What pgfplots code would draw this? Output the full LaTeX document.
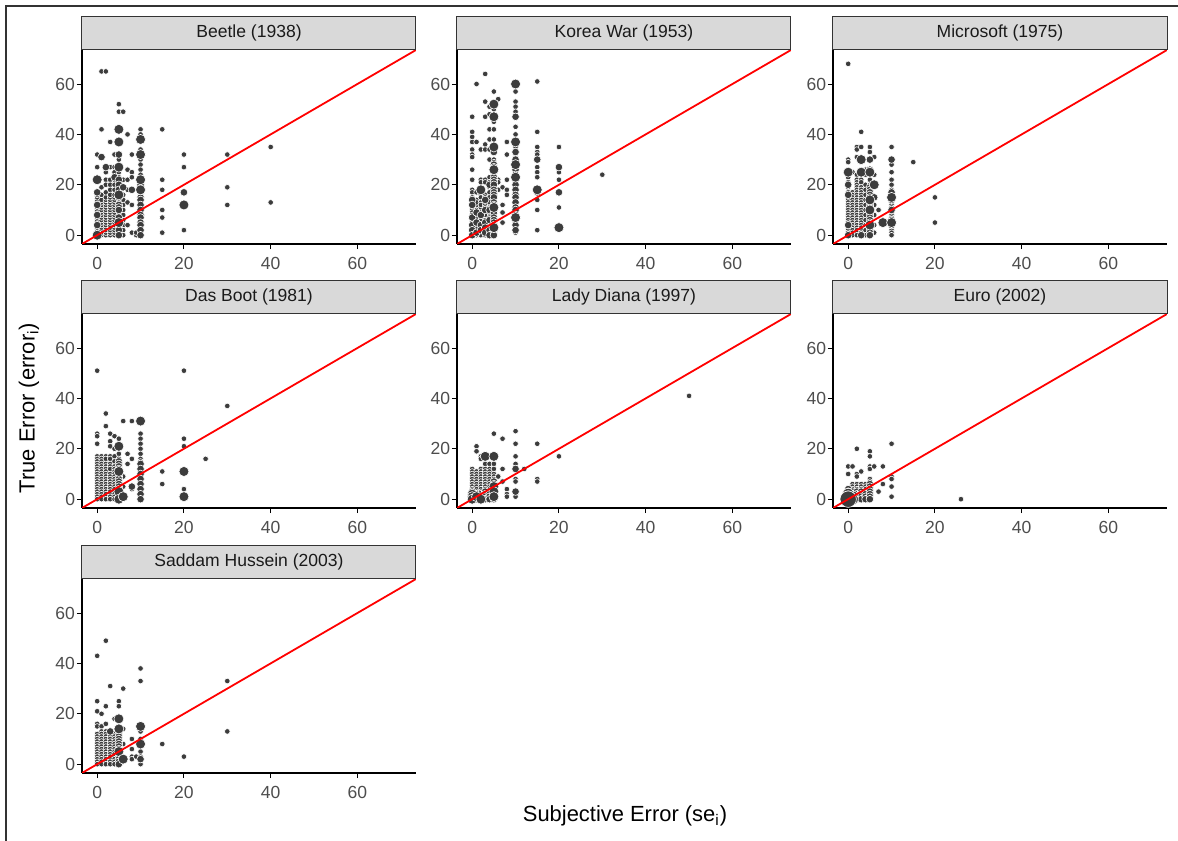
\documentclass[border=0pt]{standalone}
\usepackage{pgfplots}
\pgfplotsset{compat=1.18}
\usepackage{fontspec}
\setmainfont{Liberation Sans}
\definecolor{ptc}{HTML}{3C3C3C}
\definecolor{stripgray}{HTML}{D9D9D9}
\definecolor{stripborder}{HTML}{333333}
\definecolor{labgray}{HTML}{4D4D4D}
\definecolor{titletext}{HTML}{1A1A1A}
\newcommand{\pts}[2]{\addplot[only marks, mark=*, mark size=#1, mark options={fill=ptc, draw=white, line width=0.3bp}] coordinates {#2};}
\newcommand{\refl}{\addplot[red, line width=0.9bp, no marks] coordinates {(-3.5,-3.5)(73.5,73.5)};}
\newcommand{\strip}[1]{\node[anchor=south, fill=stripgray, draw=stripborder, line width=0.5bp,
    minimum width=167bp, minimum height=16.5bp, inner sep=0pt, text=titletext, font=\fontsize{8.8}{10}\selectfont]
    at (rel axis cs:0.5,1) {#1};}
\newcommand{\SZ}{1.4bp}
\newcommand{\MZ}{1.9bp}
\newcommand{\LZ}{2.5bp}
\pgfplotsset{facet/.style={
  anchor=south west, scale only axis, width=167bp, height=97bp,
  xmin=-3.5, xmax=73.5, ymin=-3.5, ymax=73.5,
  clip mode=individual,
  axis lines*=left, axis line style={-, line width=0.9bp, black},
  xtick={0,20,40,60}, ytick={0,20,40,60},
  tick align=outside, major tick length=2.6bp, tick style={line width=0.5bp, black},
  /pgf/number format/assume math mode=true,
  tick label style={font=\fontsize{8.8}{10}\selectfont, text=labgray, inner sep=1.2bp},
  xticklabel style={yshift=-2.5bp},
  yticklabel style={xshift=0.5bp},
}}
\begin{document}
\begin{tikzpicture}
\path[use as bounding box] (0,0) rectangle (589bp,420.5bp);
\draw[stripborder, line width=0.6bp] (3bp,0) -- (3bp,417.5bp) -- (589bp,417.5bp);

% Beetle
\begin{axis}[facet, at={(41bp,298.5bp)}]
\pts{\SZ}{(0,1)(0,2)(0,3)(0,5)(0,6)(0,7)(0,9)(0,10)(0,11)(0,13)(0,14)(0,15)(0,16)(0,27)(0,32)
 (1,65)(1,42)(1,0)(1,1)(1,2)(1,3)(1,4)(1,5)(1,6)(1,7)(1,8)(1,9)(1,10)(1,11)(1,12)(1,13)(1,14)(1,16)(1,19)
 (2,65)(2,25)(2,22)(2,20)(2,0)(2,1)(2,2)(2,3)(2,4)(2,5)(2,6)(2,7)(2,8)(2,9)(2,10)(2,11)(2,12)(2,13)(2,14)(2,15)(2,17)
 (3,37)(3,27)(3,22)(3,20)(3,18)(3,0)(3,1)(3,2)(3,3)(3,4)(3,5)(3,6)(3,7)(3,8)(3,9)(3,10)(3,11)(3,12)(3,13)(3,14)(3,15)(3,16)
 (4,32)(4,27)(4,25)(4,22)(4,20)(4,18)(4,0)(4,1)(4,2)(4,3)(4,4)(4,5)(4,6)(4,7)(4,8)(4,9)(4,10)(4,11)(4,12)(4,13)(4,14)(4,15)(4,16)
 (5,52)(5,49)(5,30)(5,25)(5,23)(5,21)(5,19)(5,17)(5,14)(5,13)(5,9)(5,8)(5,6)(5,3)(5,1)
 (6,49)(6,22)(6,16)(6,14)(6,12)(6,10)(6,8)(6,6)(6,4)(6,2)(6,0)
 (7,40)(7,26)(7,22)(7,18)(7,13)(7,4)(8,32)(8,25)(8,23)(8,12)(8,1)(9,0)(9,1)
 (10,42)(10,40)(10,34)(10,30)(10,28)(10,26)(10,24)(10,19)(10,16)(10,13)(10,11)(10,9)(10,6)(10,3)(10,1)
 (15,42)(15,22)(15,18)(15,10)(15,7)(15,1)(20,32)(20,27)(20,2)(30,32)(30,19)(30,12)(40,35)(40,13)}
\pts{\MZ}{(0,4)(0,8)(0,12)(0,17)(1,31)(2,27)(4,23)(5,32)(5,22)(5,20)(5,18)(5,15)(5,12)(5,11)(5,10)(5,7)(5,4)(5,2)(5,0)(6,19)(8,18)
 (10,21)(10,20)(10,17)(10,15)(10,14)(10,12)(10,10)(10,8)(10,7)(10,5)(10,4)(10,2)(10,0)(20,17)}
\pts{\LZ}{(0,22)(0,0)(5,42)(5,37)(5,27)(5,16)(5,5)(10,38)(10,32)(10,22)(10,18)(20,12)}
\refl
\strip{Beetle (1938)}
\end{axis}

% Korea War
\begin{axis}[facet, at={(228.5bp,298.5bp)}]
\pts{\SZ}{(0,47)(0,41)(0,39)(0,37)(0,34)(0,32)(0,31)(0,26)(0,22)(0,18)(0,17)(0,15)(0,13)(0,11)(0,10)(0,9)(0,8)(0,6)(0,5)(0,3)(0,1)
 (1,60)(1,37)(1,17)(1,14)(1,12)(1,10)(1,8)(1,6)(1,4)(1,2)(1,0)(1,13)(1,7)(1,3)
 (2,34)(2,22)(2,21)(2,16)(2,15)(2,13)(2,11)(2,9)(2,7)(2,5)(2,3)(2,1)(2,0)(2,12)(2,6)
 (3,64)(3,53)(3,47)(3,36)(3,34)(3,22)(3,21)(3,16)(3,15)(3,12)(3,11)(3,9)(3,8)(3,6)(3,4)(3,2)(3,0)
 (4,51)(4,48)(4,42)(4,38)(4,34)(4,30)(4,23)(4,21)(4,19)(4,17)(4,15)(4,13)(4,11)(4,9)(4,7)(4,5)(4,3)(4,1)
 (5,57)(5,50)(5,45)(5,42)(5,38)(5,30)(5,29)(5,24)(5,19)(5,14)(5,11)(5,8)(5,3)
 (6,54)(6,22)(6,21)(6,18)(7,19)(7,12)(7,9)(7,5)(8,37)(8,32)(8,22)(8,18)(8,16)
 (10,57)(10,53)(10,51)(10,49)(10,43)(10,40)(10,35)(10,31)(10,25)(10,21)(10,19)(10,17)(10,14)(10,12)(10,9)(10,5)(10,3)(10,1)
 (15,61)(15,41)(15,35)(15,33)(15,32)(15,27)(15,25)(15,23)(15,14)(15,10)(15,2)(20,35)(20,25)(20,22)(20,11)(30,24)}
\pts{\MZ}{(0,14)(0,12)(0,7)(0,4)(0,2)(0,0)(1,9)(1,5)(1,1)(2,8)(2,4)(2,2)(3,14)(3,10)(3,5)(3,3)(3,1)(4,20)(4,10)(4,6)(4,2)(4,0)
 (5,33)(5,28)(5,27)(5,25)(5,23)(5,22)(5,21)(5,20)(5,18)(5,17)(5,16)(5,15)(5,13)(5,12)(5,10)(5,9)(5,7)(5,6)(5,5)(5,4)(5,2)(5,1)(5,0)
 (10,47)(10,33)(10,30)(10,27)(10,26)(10,24)(10,22)(10,20)(10,18)(10,16)(10,15)(10,13)(10,11)(10,10)(10,8)(10,6)(10,4)(10,2)
 (15,30)(15,17)(20,27)(20,17)}
\pts{\LZ}{(2,18)(5,52)(5,47)(5,35)(5,26)(5,11)(5,3)(10,60)(10,37)(10,28)(10,23)(10,7)(15,18)(20,3)}
\refl
\strip{Korea War (1953)}
\end{axis}

% Microsoft
\begin{axis}[facet, at={(416.5bp,298.5bp)}]
\pts{\SZ}{(0,68)(0,30)(0,29)(0,24)(0,23)(0,21)(0,19)(0,17)(0,15)(0,14)(0,13)(0,12)(0,11)(0,10)(0,9)(0,8)(0,7)(0,6)(0,5)(0,3)(0,2)(0,1)
 (1,25)(1,17)(1,16)(1,15)(1,14)(1,13)(1,12)(1,11)(1,10)(1,9)(1,8)(1,7)(1,6)(1,5)(1,4)(1,3)(1,2)(1,1)(1,0)
 (2,35)(2,34)(2,31)(2,24)(2,22)(2,21)(2,20)(2,19)(2,18)(2,17)(2,16)(2,15)(2,14)(2,13)(2,12)(2,11)(2,10)(2,9)(2,8)(2,7)(2,6)(2,5)(2,4)(2,3)(2,2)(2,1)(2,0)
 (3,41)(3,35)(3,29)(3,24)(3,22)(3,21)(3,19)(3,18)(3,17)(3,16)(3,15)(3,14)(3,13)(3,12)(3,11)(3,10)(3,9)(3,8)(3,7)(3,6)(3,5)(3,4)(3,3)(3,2)(3,1)
 (4,26)(4,24)(4,20)(4,18)(4,16)(4,14)(4,12)(4,10)(4,8)(4,6)(4,4)(4,2)(4,0)
 (5,35)(5,33)(5,22)(5,20)(6,31)(6,24)(6,12)(6,8)(6,4)(6,1)(7,10)
 (10,35)(10,28)(10,25)(10,22)(10,20)(10,18)(10,16)(10,13)(10,12)(10,11)(10,9)(10,8)(10,7)(10,3)(10,2)(10,1)(10,0)
 (15,29)(20,15)(20,5)}
\pts{\MZ}{(0,20)(0,16)(0,4)(0,0)(3,0)
 (5,30)(5,26)(5,19)(5,18)(5,17)(5,16)(5,15)(5,13)(5,12)(5,11)(5,9)(5,8)(5,7)(5,6)(5,5)(5,3)(5,2)(5,1)(5,0)
 (6,15)(10,30)(10,17)(10,14)(10,10)(10,6)(10,4)}
\pts{\LZ}{(0,25)(3,30)(3,25)(5,25)(5,14)(5,10)(5,4)(6,20)(8,5)(10,15)(10,5)}
\refl
\strip{Microsoft (1975)}
\end{axis}

% Das Boot
\begin{axis}[facet, at={(41bp,166.5bp)}]
\pts{\SZ}{(0,51)(0,26)(0,25)(0,22)(0,17)(0,16)(0,15)(0,14)(0,13)(0,12)(0,11)(0,10)(0,9)(0,8)(0,7)(0,6)(0,5)(0,4)(0,3)(0,2)(0,1)(0,0)
 (1,17)(1,16)(1,15)(1,14)(1,13)(1,12)(1,11)(1,10)(1,9)(1,8)(1,7)(1,6)(1,5)(1,4)(1,3)(1,2)(1,1)(1,0)
 (2,34)(2,29)(2,17)(2,16)(2,14)(2,13)(2,12)(2,11)(2,10)(2,9)(2,8)(2,7)(2,6)(2,5)(2,4)(2,3)(2,2)(2,1)(2,0)
 (3,26)(3,23)(3,21)(3,17)(3,16)(3,14)(3,13)(3,12)(3,10)(3,9)(3,8)(3,7)(3,6)(3,5)(3,4)(3,3)(3,2)(3,1)(3,0)
 (4,25)(4,20)(4,17)(4,15)(4,13)(4,12)(4,11)(4,10)(4,9)(4,8)(4,7)(4,6)(4,5)(4,4)(4,3)(4,2)(4,1)(4,0)
 (5,24)(5,18)(5,16)(6,31)(6,9)(6,5)(7,18)(7,14)(8,31)(8,16)(8,4)
 (10,26)(10,24)(10,22)(10,20)(10,18)(10,16)(10,15)(10,13)(10,11)(10,9)(10,7)(10,5)(10,3)(10,1)
 (15,11)(15,6)(20,51)(20,24)(20,21)(20,4)(25,16)(30,37)}
\pts{\MZ}{(5,15)(5,14)(5,13)(5,12)(5,10)(5,9)(5,8)(5,7)(5,6)(5,5)(5,4)(5,2)(5,1)(8,5)
 (10,14)(10,12)(10,10)(10,8)(10,6)(10,4)(10,2)(10,0)}
\pts{\LZ}{(5,21)(5,11)(5,3)(5,0)(6,1)(10,31)(20,11)(20,1)}
\refl
\strip{Das Boot (1981)}
\end{axis}

% Lady Diana
\begin{axis}[facet, at={(228.5bp,166.5bp)}]
\pts{\SZ}{(0,12)(0,11)(0,10)(0,9)(0,8)(0,7)(0,6)(0,5)(0,4)
 (1,21)(1,19)(1,11)(1,10)(1,9)(1,8)(1,7)(1,6)(1,5)(1,4)(1,3)
 (2,17)(2,16)(2,12)(2,11)(2,10)(2,9)(2,8)(2,7)(2,6)(2,5)(2,4)(2,3)
 (3,14)(3,12)(3,11)(3,10)(3,9)(3,8)(3,7)(3,6)(3,5)(3,4)
 (4,14)(4,12)(4,11)(4,10)(4,9)(4,8)(4,7)(4,6)(4,5)(4,4)(4,3)
 (5,26)(5,16)(5,14)(5,12)(5,10)(5,9)(5,8)(6,9)(7,24)(7,12)(7,7)(8,4)(8,2)(8,1)
 (10,27)(10,22)(10,17)(10,14)(10,8)(10,7)(10,2)(10,1)(12,12)(15,22)(15,8)(15,7)(20,17)(50,41)}
\pts{\MZ}{(0,3)(1,2)(1,1)(1,0)(2,2)(2,1)(2,0)(3,3)(3,2)(3,1)(3,0)(4,2)(4,1)(4,0)(5,7)(5,6)(5,4)(5,2)(5,0)(10,12)(10,3)}
\pts{\LZ}{(0,2)(0,1)(0,0)(1,1)(2,0)(3,17)(5,17)(5,5)(5,3)(5,1)}
\refl
\strip{Lady Diana (1997)}
\end{axis}

% Euro
\begin{axis}[facet, at={(416.5bp,166.5bp)}]
\pts{\SZ}{(0,13)(0,10)(1,13)(1,6)(1,5)(1,4)(2,20)(2,10)(2,9)(2,6)(2,5)(2,4)(3,11)(3,6)(3,5)(3,4)(4,6)(4,5)(4,4)(4,3)
 (5,19)(5,17)(5,13)(5,12)(5,8)(5,7)(6,13)(7,3)(8,13)(8,6)(10,22)(10,9)(10,8)(10,5)(10,1)(26,0)}
\pts{\MZ}{(0,4)(0,3)(1,3)(1,2)(2,3)(2,2)(2,1)(2,0)(3,3)(3,2)(3,1)(3,0)(4,2)(4,1)(4,0)(5,6)(5,5)(5,4)(5,3)(5,2)(5,1)(5,0)}
\pts{2.9bp}{(1,1)(1,0)(0,2)(0,1)}
\pts{4.1bp}{(0,0)}
\refl
\strip{Euro (2002)}
\end{axis}

% Saddam Hussein
\begin{axis}[facet, at={(41bp,34bp)}]
\pts{\SZ}{(0,43)(0,25)(0,21)(0,16)(0,15)(0,12)(0,11)(0,10)(0,9)(0,8)(0,7)(0,6)(0,5)(0,4)(0,3)(0,2)(0,1)(0,0)
 (1,20)(1,15)(1,13)(1,12)(1,11)(1,10)(1,9)(1,8)(1,7)(1,6)(1,5)(1,4)(1,3)(1,2)(1,1)(1,0)
 (2,49)(2,23)(2,16)(2,13)(2,12)(2,11)(2,10)(2,9)(2,8)(2,7)(2,6)(2,5)(2,4)(2,3)(2,2)(2,1)(2,0)
 (3,31)(3,12)(3,11)(3,10)(3,9)(3,8)(3,7)(3,6)(3,5)(3,4)(3,3)(3,2)(3,1)(3,0)
 (4,18)(4,12)(4,11)(4,10)(4,9)(4,8)(4,7)(4,6)(4,5)(4,4)(4,3)(4,2)(4,1)(4,0)
 (5,25)(5,23)(6,30)(6,14)(6,8)(8,10)(8,6)(8,3)(8,2)(9,3)
 (10,38)(10,33)(10,13)(10,10)(10,5)(10,3)(10,0)(15,8)(20,3)(30,33)(30,13)}
\pts{\MZ}{(3,13)(5,13)(5,12)(5,11)(5,10)(5,9)(5,8)(5,7)(5,6)(5,4)(5,3)(5,2)(5,1)(5,0)(10,2)}
\pts{\LZ}{(5,18)(5,14)(5,5)(6,2)(10,15)(10,8)}
\refl
\strip{Saddam Hussein (2003)}
\end{axis}

\node[rotate=90, font=\fontsize{11}{13}\selectfont, text=black] at (14.5bp,216.5bp) {True Error (error\textsubscript{i})};
\node[font=\fontsize{11}{13}\selectfont, text=black] at (312.5bp,12.5bp) {Subjective Error (se\textsubscript{i})};
\end{tikzpicture}
\end{document}
